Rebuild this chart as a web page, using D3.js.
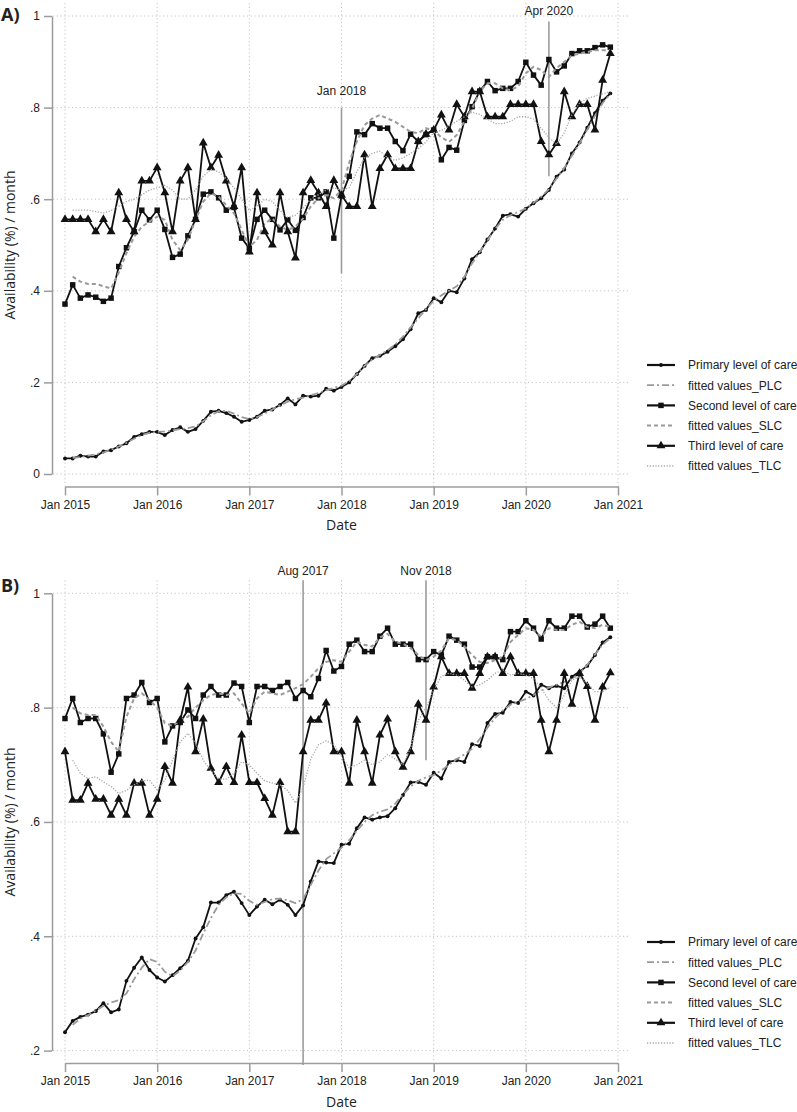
<!DOCTYPE html>
<html>
<head>
<meta charset="utf-8">
<script src="https://cdn.jsdelivr.net/npm/d3@7"></script>
<style>
  body { margin: 0; background: #fff; }
  svg { display: block; }
  text { font-family: "Liberation Sans", Arial, sans-serif; fill: #222; }
  .axis path, .axis line { stroke: #9c9c9c; stroke-width: 1.5; }
  .axis text { font-size: 12px; fill: #222; font-family: "Liberation Sans", Arial, sans-serif; }
  .grid line { stroke: #c4c4c4; stroke-width: 1; stroke-dasharray: 1.2, 2.6; }
  .title { font-family: "Open Sans", sans-serif; font-size: 14px; }
  .tag { font-family: "Open Sans", sans-serif; font-weight: bold; font-size: 18px; }
</style>
</head>
<body>
<svg id="chart"></svg>
<script>
// ---- data (monthly, Jan 2015 .. Dec 2020) ----
const xTickMonths = [0, 12, 24, 36, 48, 60, 72];
const xTickLabels = ["Jan 2015", "Jan 2016", "Jan 2017", "Jan 2018", "Jan 2019", "Jan 2020", "Jan 2021"];

const yTicksA = [0, .2, .4, .6, .8, 1];
const yTickLabelsA = ["0", ".2", ".4", ".6", ".8", "1"];
const yTicksB = [.2, .4, .6, .8, 1];
const yTickLabelsB = [".2", ".4", ".6", ".8", "1"];

const legendLabels = ["Primary level of care", "fitted values_PLC", "Second level of care",
  "fitted values_SLC", "Third level of care", "fitted values_TLC"];

// panel A
const aPrimary = [.034,.034,.040,.038,.038,.049,.052,.060,.067,.081,.087,.092,
  .092,.085,.096,.102,.092,.098,.116,.136,.138,.133,.125,.114,
  .118,.125,.138,.141,.151,.165,.152,.171,.169,.171,.186,.182,
  .190,.200,.218,.236,.253,.258,.267,.279,.294,.316,.351,.358,
  .384,.375,.400,.397,.427,.469,.484,.512,.536,.564,.567,.562,
  .579,.591,.602,.620,.649,.665,.700,.724,.756,.788,.815,.831];
const aPrimaryFit = [null,.035,.037,.040,.043,.047,.053,.060,.068,.077,.085,.090,
  .092,.093,.095,.098,.100,.104,.115,.128,.137,.138,.132,.124,
  .120,.124,.132,.141,.150,.158,.163,.167,.172,.177,.183,.188,
  .193,.203,.218,.236,.250,.260,.270,.283,.300,.320,.340,.360,
  .378,.390,.400,.410,.430,.460,.485,.510,.535,.555,.565,.572,
  .580,.592,.605,.622,.645,.668,.695,.722,.752,.782,.810,.830];
const aSecond = [.371,.413,.384,.391,.386,.377,.384,.453,.494,.529,.576,.555,
  .576,.534,.473,.480,.520,.556,.611,.616,.603,.576,.582,.515,
  .493,.556,.576,.556,.533,.555,.532,.560,.603,.603,.616,.515,
  .607,.650,.747,.741,.765,.755,.755,.726,.706,.742,.726,.741,
  .751,.686,.713,.707,.772,.802,.836,.857,.837,.842,.842,.857,
  .899,.871,.849,.905,.878,.891,.918,.924,.924,.931,.937,.932];
const aSecondFit = [null,.431,.420,.415,.415,.410,.405,.440,.482,.518,.540,.551,
  .562,.555,.511,.489,.511,.555,.595,.613,.606,.587,.569,.533,
  .496,.511,.547,.558,.540,.533,.540,.558,.584,.602,.609,.602,
  .620,.680,.726,.762,.776,.784,.776,.769,.758,.747,.744,.755,
  .750,.735,.725,.740,.770,.798,.835,.853,.853,.842,.838,.846,
  .875,.889,.882,.867,.886,.900,.914,.918,.921,.925,.925,.925];
const aThird = [.556,.556,.556,.556,.529,.556,.529,.614,.556,.529,.640,.640,
  .669,.614,.529,.640,.669,.556,.723,.669,.696,.640,.584,.669,
  .485,.614,.529,.500,.614,.529,.472,.614,.641,.614,.584,.641,
  .609,.584,.584,.697,.584,.667,.697,.667,.667,.667,.726,.742,
  .751,.784,.751,.807,.780,.835,.835,.780,.780,.780,.807,.807,
  .807,.807,.726,.697,.722,.835,.780,.807,.807,.751,.860,.918];
const aThirdFit = [null,.576,.576,.576,.573,.570,.575,.585,.595,.600,.610,.620,
  .625,.630,.620,.600,.600,.620,.650,.665,.660,.645,.625,.600,
  .575,.585,.600,.595,.575,.560,.565,.580,.600,.610,.620,.625,
  .620,.625,.660,.690,.700,.705,.690,.685,.690,.700,.710,.725,
  .745,.750,.760,.770,.780,.790,.785,.775,.765,.765,.770,.780,
  .780,.775,.755,.735,.720,.745,.785,.810,.820,.825,.830,.835];

// panel B
const bPrimary = [.232,.252,.259,.263,.269,.283,.267,.272,.322,.345,.363,.341,
  .328,.321,.332,.344,.357,.396,.416,.459,.459,.472,.478,.458,
  .437,.452,.464,.456,.464,.455,.437,.454,.496,.531,.529,.528,
  .560,.562,.589,.608,.604,.608,.610,.624,.647,.669,.670,.665,
  .686,.676,.705,.708,.705,.736,.733,.773,.789,.791,.810,.808,
  .828,.821,.840,.834,.838,.834,.854,.863,.873,.892,.914,.923];
const bPrimaryFit = [null,.245,.256,.262,.270,.278,.284,.288,.300,.325,.345,.360,
  .355,.338,.330,.340,.355,.375,.405,.432,.455,.468,.475,.474,
  .462,.455,.460,.465,.466,.463,.458,.465,.490,.515,.535,.545,
  .555,.568,.585,.600,.612,.618,.622,.632,.648,.662,.672,.678,
  .682,.690,.700,.710,.718,.728,.745,.765,.782,.795,.805,.810,
  .815,.822,.830,.835,.840,.845,.850,.860,.875,.893,.910,.922];
const bSecond = [.781,.816,.774,.781,.781,.754,.687,.719,.816,.822,.844,.809,
  .816,.740,.768,.774,.796,.781,.822,.837,.822,.822,.843,.837,
  .774,.837,.837,.830,.837,.844,.816,.830,.819,.851,.900,.864,
  .872,.911,.918,.898,.898,.925,.939,.911,.911,.911,.884,.884,
  .898,.892,.925,.918,.911,.871,.871,.889,.889,.884,.933,.933,
  .952,.939,.920,.952,.939,.939,.960,.960,.941,.946,.960,.939];
const bSecondFit = [null,.800,.790,.787,.787,.767,.740,.723,.784,.816,.825,.813,
  .800,.773,.768,.778,.784,.800,.813,.822,.825,.822,.825,.807,
  .790,.816,.828,.825,.822,.828,.834,.841,.854,.869,.880,.883,
  .880,.898,.915,.910,.907,.923,.929,.915,.912,.904,.892,.883,
  .889,.900,.921,.918,.907,.892,.880,.878,.883,.889,.915,.927,
  .939,.936,.924,.939,.936,.936,.945,.950,.941,.939,.945,.941];
const bThird = [.723,.638,.638,.668,.640,.640,.612,.640,.612,.668,.668,.612,
  .640,.697,.668,.778,.836,.723,.780,.694,.669,.697,.669,.752,
  .669,.669,.641,.612,.669,.583,.583,.723,.778,.778,.808,.723,
  .723,.668,.778,.723,.668,.752,.780,.723,.696,.723,.806,.778,
  .836,.889,.860,.860,.860,.834,.860,.889,.889,.860,.889,.860,
  .860,.860,.778,.723,.778,.860,.806,.860,.837,.778,.836,.861];
const bThirdFit = [null,.708,.685,.676,.679,.670,.662,.650,.655,.665,.672,.673,
  .656,.673,.708,.740,.755,.738,.708,.690,.675,.675,.685,.705,
  .700,.685,.672,.668,.665,.655,.633,.660,.710,.735,.742,.735,
  .715,.695,.700,.708,.700,.705,.718,.710,.700,.730,.778,.800,
  .830,.855,.860,.857,.848,.836,.840,.848,.860,.866,.857,.860,
  .857,.851,.834,.813,.800,.822,.848,.854,.842,.828,.828,.836];

// reference lines: month index, label, value span, label value
const refMonthsA = [36, 63];
const refLabelsA = ["Jan 2018", "Apr 2020"];
const refSpansA = [[.8, .438], [.988, .65]];
const refLabelAtA = [.828, 1.003];
const refMonthsB = [31, 47];
const refLabelsB = ["Aug 2017", "Nov 2018"];
const refSpansB = [[1.023, .175], [1.023, .708]];
const refLabelAtB = [1.032, 1.032];

// ---- drawing ----
const width = 797, height = 1112;
const svg = d3.select('#chart').attr('width', width).attr('height', height);

const styles = [
  { stroke: '#111', width: 1.8, dash: null, marker: d3.symbolCircle, size: 12 },
  { stroke: '#9a9a9a', width: 1.8, dash: '7,3,2,3' },
  { stroke: '#111', width: 1.8, dash: null, marker: d3.symbolSquare, size: 30 },
  { stroke: '#9a9a9a', width: 2, dash: '4,3' },
  { stroke: '#111', width: 1.8, dash: null, marker: d3.symbolTriangle, size: 34 },
  { stroke: '#a6a6a6', width: 1.3, dash: '1.2,1.6' }
];

const x = d3.scaleLinear().domain([0, 72]).range([65, 618]);

function drawPanel(p) {
  const { yTop, yBottom, yMin, yTicks, yTickLabels, series, refs, tag, tagY, legendTop } = p;
  const y = d3.scaleLinear().domain([yMin, 1]).range([yBottom, yTop]);
  const g = svg.append('g');

  // grid
  const grid = g.append('g').attr('class', 'grid');
  grid.selectAll('.h').data(yTicks).enter().append('line')
    .attr('x1', 53).attr('x2', 630)
    .attr('y1', d => y(d)).attr('y2', d => y(d));
  grid.selectAll('.v').data(xTickMonths).enter().append('line')
    .attr('x1', d => x(d)).attr('x2', d => x(d))
    .attr('y1', yTop - 13).attr('y2', yBottom + 12);

  // axes
  const yAxis = d3.axisLeft(y)
    .tickValues(yTicks)
    .tickFormat((d, i) => yTickLabels[i])
    .tickSize(8).tickSizeOuter(0).tickPadding(4);
  g.append('g').attr('class', 'axis')
    .attr('transform', 'translate(52,0)')
    .call(yAxis);

  const xAxis = d3.axisBottom(x)
    .tickValues(xTickMonths)
    .tickFormat((d, i) => xTickLabels[i])
    .tickSize(9).tickSizeOuter(0).tickPadding(4.5);
  g.append('g').attr('class', 'axis')
    .attr('transform', `translate(0,${yBottom + 12.5})`)
    .call(xAxis);

  // axis titles
  g.append('text').attr('class', 'title')
    .attr('transform', `translate(15,${(yTop + yBottom) / 2}) rotate(-90)`)
    .attr('text-anchor', 'middle')
    .text('Availability (%) / month');
  g.append('text').attr('class', 'title')
    .attr('x', x(36)).attr('y', yBottom + 56)
    .attr('text-anchor', 'middle')
    .text('Date');

  // panel tag
  g.append('text').attr('class', 'tag')
    .attr('x', 1).attr('y', tagY).text(tag);

  // reference lines
  refs.months.forEach((m, i) => {
    g.append('line')
      .attr('x1', x(m)).attr('x2', x(m))
      .attr('y1', y(refs.spans[i][0])).attr('y2', y(refs.spans[i][1]))
      .attr('stroke', '#9c9c9c').attr('stroke-width', 1.6);
    g.append('text')
      .attr('x', x(m)).attr('y', y(refs.labelAt[i]))
      .attr('text-anchor', 'middle')
      .style('font-size', '12px')
      .text(refs.labels[i]);
  });

  // series
  const line = d3.line()
    .defined(d => d != null)
    .x((d, i) => x(i))
    .y(d => y(d));

  series.forEach((values, k) => {
    const s = styles[k];
    g.append('path')
      .attr('d', line(values))
      .attr('fill', 'none')
      .attr('stroke', s.stroke)
      .attr('stroke-width', s.width)
      .attr('stroke-linejoin', 'round')
      .attr('stroke-dasharray', s.dash);
    if (s.marker) {
      g.selectAll(null)
        .data(values.map((v, i) => [i, v]).filter(d => d[1] != null))
        .enter().append('path')
        .attr('d', d3.symbol().type(s.marker).size(s.size))
        .attr('transform', d => `translate(${x(d[0])},${y(d[1])})`)
        .attr('fill', '#111');
    }
  });

  // legend
  const lg = g.append('g').attr('transform', `translate(0,${legendTop})`);
  legendLabels.forEach((label, k) => {
    const s = styles[k];
    const ly = k * 20.2;
    lg.append('line')
      .attr('x1', 647).attr('x2', 675).attr('y1', ly).attr('y2', ly)
      .attr('stroke', s.stroke)
      .attr('stroke-width', s.marker ? 2.2 : s.width)
      .attr('stroke-dasharray', s.dash);
    if (s.marker) {
      lg.append('path')
        .attr('d', d3.symbol().type(s.marker).size(s.size))
        .attr('transform', `translate(661,${ly})`)
        .attr('fill', '#111');
    }
    lg.append('text')
      .attr('x', 688).attr('y', ly).attr('dy', '0.36em')
      .style('font-size', '12px')
      .text(label);
  });
}

drawPanel({
  yTop: 16, yBottom: 474, yMin: 0,
  yTicks: yTicksA, yTickLabels: yTickLabelsA,
  series: [aPrimary, aPrimaryFit, aSecond, aSecondFit, aThird, aThirdFit],
  refs: { months: refMonthsA, labels: refLabelsA, spans: refSpansA, labelAt: refLabelAtA },
  tag: 'A)', tagY: 21, legendTop: 365
});

drawPanel({
  yTop: 593.3, yBottom: 1050.6, yMin: .2,
  yTicks: yTicksB, yTickLabels: yTickLabelsB,
  series: [bPrimary, bPrimaryFit, bSecond, bSecondFit, bThird, bThirdFit],
  refs: { months: refMonthsB, labels: refLabelsB, spans: refSpansB, labelAt: refLabelAtB },
  tag: 'B)', tagY: 592, legendTop: 942
});
</script>
</body>
</html>
